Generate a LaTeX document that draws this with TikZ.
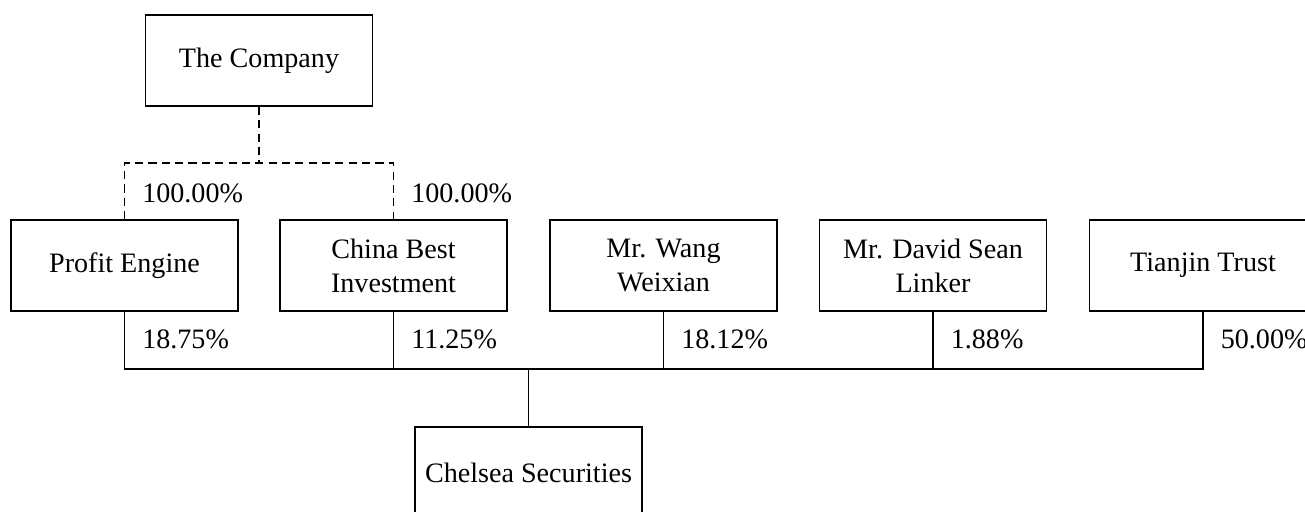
\documentclass[tikz,border=0pt]{standalone}
\usepackage{fontspec}
\setmainfont{Liberation Serif}
\begin{document}
\begin{tikzpicture}[
    box/.style={draw, line width=0.45pt, minimum width=2.27cm, minimum height=0.91cm,
                align=center, inner sep=1pt, font=\fontsize{8}{9.7}\selectfont},
    pct/.style={anchor=west, inner sep=0pt, font=\fontsize{8}{9.7}\selectfont},
    owned/.style={dash pattern=on 2.3pt off 1.5pt},
    line width=0.45pt]
    \clip (0,0) rectangle (13.05,-5.11);
    % Parent at the top
    \node[box] (company) at (2.59,-0.605) {The Company};
    % Shareholders row
    \node[box] (profit)  at (1.245,-2.655) {Profit Engine};
    \node[box] (china)   at (3.935,-2.655) {China Best\\Investment};
    \node[box] (wang)    at (6.635,-2.655) {Mr. Wang\\Weixian};
    \node[box] (david)   at (9.33,-2.655)  {Mr. David Sean\\Linker};
    \node[box] (tianjin) at (12.03,-2.655) {Tianjin Trust};
    % The company held
    \node[box] (chelsea) at (5.285,-4.725) {Chelsea Securities};
    % Wholly owned links (dashed)
    \coordinate (split) at (0,-1.63);
    \draw[owned] (company.south) -- (company.south |- split);
    \draw[owned] (profit.north) |- (split -| china.north) -- (china.north);
    \node[pct] (pprofit) at ([xshift=0.17cm]profit.north |- 0,-1.93) {100.00\%};
    \node[pct] (pchina)  at ([xshift=0.17cm]china.north |- 0,-1.93) {100.00\%};
    % Holdings in Chelsea Securities
    \coordinate (bus) at (0,-3.69);
    \draw (profit.south) |- (bus -| tianjin.south) -- (tianjin.south);
    \draw (china.south) -- (china.south |- bus);
    \draw (wang.south) -- (wang.south |- bus);
    \draw (david.south) -- (david.south |- bus);
    \draw (chelsea.north) -- (chelsea.north |- bus);
    \node[pct] (sprofit)  at ([xshift=0.17cm]profit.south |- 0,-3.39) {18.75\%};
    \node[pct] (schina)   at ([xshift=0.17cm]china.south |- 0,-3.39) {11.25\%};
    \node[pct] (swang)    at ([xshift=0.17cm]wang.south |- 0,-3.39) {18.12\%};
    \node[pct] (sdavid)   at ([xshift=0.17cm]david.south |- 0,-3.39) {1.88\%};
    \node[pct] (stianjin) at ([xshift=0.17cm]tianjin.south |- 0,-3.39) {50.00\%};
\end{tikzpicture}
\end{document}
